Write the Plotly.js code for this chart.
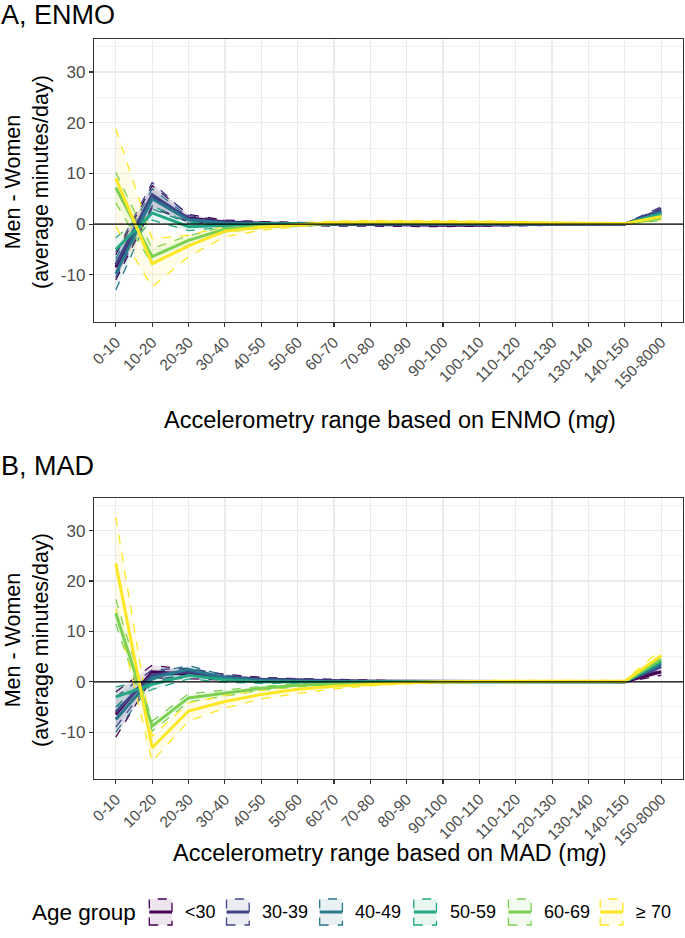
<!DOCTYPE html>
<html>
<head>
<meta charset="utf-8">
<script src="https://cdn.plot.ly/plotly-3.0.1.min.js"></script>
<style>
html,body{margin:0;padding:0;background:#fff;}
#chart{width:685px;height:938px;}
</style>
</head>
<body>
<div id="chart"></div>
<script>
// ---------- DATA ----------
const categories = ["0-10","10-20","20-30","30-40","40-50","50-60","60-70","70-80","80-90","90-100","100-110","110-120","120-130","130-140","140-150","150-8000"];
const groups = ["<30","30-39","40-49","50-59","60-69","\u2265 70"];
const colors = ["#440154","#414487","#2A788E","#22A884","#7AD151","#FDE725"];
const yTickVals = [-10,0,10,20,30];
const yTickText = ["-10","0","10","20","30"];

// Panel A: ENMO  (one row per age group)
const enmoMean = [
  [-8.5, 5.3, 1.2, 0.4, 0.2, 0.0,-0.1,-0.1,-0.2,-0.2,-0.2,-0.1,-0.1, 0.0, 0.0, 2.5],
  [-8.0, 5.8, 1.0, 0.3, 0.1, 0.0, 0.0, 0.0,-0.1,-0.1,-0.1,-0.1, 0.0, 0.0, 0.0, 2.8],
  [-9.8, 5.0, 0.8, 0.2, 0.1, 0.0, 0.0, 0.0, 0.0, 0.0, 0.0, 0.0, 0.0, 0.0, 0.0, 2.3],
  [-5.0, 2.2,-0.5,-0.2, 0.0, 0.0, 0.1, 0.1, 0.1, 0.1, 0.1, 0.1, 0.1, 0.1, 0.1, 2.0],
  [ 7.2,-6.4,-3.2,-1.0,-0.4,-0.1, 0.1, 0.2, 0.2, 0.2, 0.2, 0.2, 0.2, 0.1, 0.1, 1.2],
  [ 9.0,-7.8,-4.3,-1.4,-0.6,-0.1, 0.3, 0.4, 0.4, 0.4, 0.3, 0.3, 0.2, 0.2, 0.1, 1.5]
];
const enmoLow = [
  [-11.0, 3.2, 0.5, 0.0,-0.1,-0.3,-0.4,-0.4,-0.5,-0.5,-0.4,-0.3,-0.2,-0.1,-0.1, 1.9],
  [-10.5, 3.6, 0.3,-0.1,-0.2,-0.2,-0.2,-0.2,-0.3,-0.3,-0.3,-0.2,-0.2,-0.1,-0.1, 2.2],
  [-13.0, 3.0, 0.2,-0.1,-0.1,-0.2,-0.2,-0.1,-0.1,-0.1,-0.1,-0.1,-0.1,-0.1,-0.1, 1.8],
  [ -7.3, 0.8,-1.3,-0.6,-0.3,-0.2,-0.1,-0.1,-0.1,-0.1,-0.1, 0.0, 0.0, 0.0, 0.0, 1.5],
  [  4.2,-8.0,-4.1,-1.6,-0.8,-0.4,-0.1, 0.0, 0.0, 0.0, 0.0, 0.0, 0.0, 0.0, 0.0, 0.7],
  [ -0.5,-12.4,-6.4,-2.5,-1.2,-0.5, 0.0, 0.1, 0.1, 0.1, 0.1, 0.0, 0.0, 0.0, 0.0, 0.8]
];
const enmoHigh = [
  [-6.0, 7.6, 1.9, 0.8, 0.5, 0.3, 0.2, 0.2, 0.1, 0.1, 0.0, 0.1, 0.0, 0.1, 0.1, 3.1],
  [-5.5, 8.2, 1.7, 0.7, 0.4, 0.2, 0.2, 0.2, 0.1, 0.1, 0.1, 0.1, 0.1, 0.1, 0.1, 3.4],
  [-6.8, 7.0, 1.4, 0.5, 0.3, 0.2, 0.2, 0.1, 0.1, 0.1, 0.1, 0.1, 0.1, 0.1, 0.1, 2.8],
  [-2.7, 3.6, 0.3, 0.2, 0.3, 0.2, 0.2, 0.2, 0.2, 0.2, 0.2, 0.2, 0.2, 0.2, 0.2, 2.5],
  [10.2,-4.8,-2.3,-0.5,-0.1, 0.2, 0.3, 0.4, 0.4, 0.4, 0.4, 0.3, 0.3, 0.3, 0.2, 1.7],
  [18.8,-2.9,-2.2,-0.4, 0.0, 0.3, 0.6, 0.7, 0.7, 0.7, 0.6, 0.5, 0.4, 0.3, 0.2, 2.1]
];

// Panel B: MAD
const madMean = [
  [-6.5, 2.0, 1.5, 0.9, 0.5, 0.3, 0.2, 0.1, 0.1, 0.0, 0.0, 0.0, 0.0, 0.0, 0.0, 2.0],
  [-6.0, 1.4, 2.0, 0.9, 0.5, 0.3, 0.2, 0.1, 0.1, 0.0, 0.0, 0.0, 0.0, 0.0, 0.0, 3.0],
  [-7.5, 0.8, 2.5, 0.8, 0.3, 0.1, 0.0, 0.0, 0.0, 0.0, 0.0, 0.0, 0.0, 0.0, 0.0, 3.5],
  [-3.0,-0.5, 1.3, 0.4, 0.0,-0.1,-0.1, 0.0, 0.0, 0.0, 0.0, 0.0, 0.0, 0.0, 0.0, 4.0],
  [13.6,-8.8,-3.2,-2.2,-1.3,-0.7,-0.4,-0.2,-0.1, 0.0, 0.0, 0.0, 0.0, 0.0, 0.0, 4.5],
  [23.5,-13.1,-5.8,-3.9,-2.5,-1.5,-0.9,-0.5,-0.2, 0.0, 0.1, 0.1, 0.1, 0.1, 0.1, 5.2]
];
const madLow = [
  [-11.0, 0.8, 0.6, 0.3, 0.1, 0.0,-0.1,-0.1,-0.1,-0.1,-0.1,-0.1,-0.1,-0.1,-0.1, 1.3],
  [ -9.0, 0.4, 1.3, 0.4, 0.2, 0.0, 0.0, 0.0, 0.0,-0.1,-0.1,-0.1,-0.1,-0.1,-0.1, 2.4],
  [-10.0,-0.2, 1.8, 0.3, 0.0,-0.1,-0.1,-0.1,-0.1,-0.1,-0.1,-0.1,-0.1,-0.1,-0.1, 2.9],
  [ -5.0,-1.5, 0.6,-0.1,-0.3,-0.3,-0.2,-0.1,-0.1,-0.1,-0.1,-0.1,-0.1,-0.1,-0.1, 3.4],
  [ 11.5,-9.8,-4.0,-2.8,-1.7,-1.0,-0.6,-0.4,-0.2,-0.1,-0.1,-0.1,-0.1,-0.1,-0.1, 3.8],
  [ 14.5,-15.8,-7.8,-5.2,-3.4,-2.3,-1.4,-0.8,-0.4,-0.2,-0.1,-0.1,-0.1,-0.1,-0.1, 4.0]
];
const madHigh = [
  [-2.0, 3.3, 2.4, 1.5, 0.9, 0.6, 0.5, 0.3, 0.2, 0.1, 0.1, 0.1, 0.1, 0.1, 0.1, 2.7],
  [-3.0, 2.4, 2.7, 1.4, 0.8, 0.6, 0.4, 0.2, 0.2, 0.1, 0.1, 0.1, 0.1, 0.1, 0.1, 3.6],
  [-5.0, 1.8, 3.2, 1.3, 0.6, 0.3, 0.2, 0.1, 0.1, 0.1, 0.1, 0.1, 0.1, 0.1, 0.1, 4.1],
  [-1.0, 0.5, 2.0, 0.9, 0.3, 0.1, 0.1, 0.1, 0.1, 0.1, 0.1, 0.1, 0.1, 0.1, 0.1, 4.6],
  [16.4,-7.8,-2.4,-1.6,-0.9,-0.4,-0.2, 0.0, 0.1, 0.1, 0.1, 0.1, 0.1, 0.1, 0.1, 5.2],
  [32.7,-10.8,-4.2,-2.7,-1.7,-0.8,-0.4,-0.1, 0.1, 0.2, 0.3, 0.3, 0.3, 0.3, 0.3, 6.4]
];

// ---------- HELPERS ----------
const W = 685, H = 938;
const px = x => x / W;
const py = y => 1 - y / H;
function rgba(hex, a){
  const r = parseInt(hex.slice(1,3),16), g = parseInt(hex.slice(3,5),16), b = parseInt(hex.slice(5,7),16);
  return `rgba(${r},${g},${b},${a})`;
}
const FONT = "Liberation Sans, Arial, Helvetica, sans-serif";

const traces = [];
function addPanel(meanArr, lowArr, highArr, xa, ya){
  groups.forEach((g, i) => {
    traces.push({x: categories, y: highArr[i], xaxis: xa, yaxis: ya, type: 'scatter', mode: 'lines',
      line: {color: colors[i], width: 1.3, dash: 'dash'}, showlegend: false, hoverinfo: 'skip'});
    traces.push({x: categories, y: lowArr[i], xaxis: xa, yaxis: ya, type: 'scatter', mode: 'lines',
      line: {color: colors[i], width: 1.3, dash: 'dash'}, fill: 'tonexty', fillcolor: rgba(colors[i], 0.1),
      showlegend: false, hoverinfo: 'skip'});
  });
  groups.forEach((g, i) => {
    traces.push({x: categories, y: meanArr[i], xaxis: xa, yaxis: ya, type: 'scatter', mode: 'lines',
      line: {color: colors[i], width: 3}, name: g, showlegend: false});
  });
}
addPanel(enmoMean, enmoLow, enmoHigh, 'x', 'y');
addPanel(madMean, madLow, madHigh, 'x2', 'y2');

const xBase = {
  type: 'category', categoryorder: 'array', categoryarray: categories,
  range: [-0.6, categories.length - 0.4],
  domain: [px(94), px(683)],
  showgrid: true, gridcolor: '#EBEBEB', gridwidth: 1.3,
  showline: true, mirror: true, linecolor: '#333333', linewidth: 1.2,
  ticks: 'outside', ticklen: 4, tickcolor: '#333333', tickwidth: 1.2,
  tickangle: -45, tickfont: {family: FONT, size: 15.5, color: '#4D4D4D'},
  zeroline: false, fixedrange: true
};
const yBase = {
  range: [-19.3, 36.5],
  tickvals: yTickVals, ticktext: yTickText,
  showgrid: true, gridcolor: '#EBEBEB', gridwidth: 1.3,
  minor: {dtick: 5, tick0: 0, showgrid: true, gridcolor: '#F0F0F0', gridwidth: 0.9, ticks: ''},
  showline: true, mirror: true, linecolor: '#333333', linewidth: 1.2,
  ticks: 'outside', ticklen: 4, tickcolor: '#333333', tickwidth: 1.2,
  tickfont: {family: FONT, size: 17, color: '#4D4D4D'},
  zeroline: false, fixedrange: true
};

const layout = {
  width: W, height: H, autosize: false,
  margin: {l: 0, r: 0, t: 0, b: 0, pad: 0},
  paper_bgcolor: '#ffffff', plot_bgcolor: '#ffffff',
  showlegend: false,
  xaxis: Object.assign({}, xBase, {anchor: 'y'}),
  yaxis: Object.assign({}, yBase, {anchor: 'x', domain: [py(322), py(39)]}),
  xaxis2: Object.assign({}, xBase, {anchor: 'y2'}),
  yaxis2: Object.assign({}, yBase, {anchor: 'x2', domain: [py(779), py(498)]}),
  shapes: [
    {type: 'line', xref: 'x domain', yref: 'y', x0: 0, x1: 1, y0: 0, y1: 0, line: {color: '#000000', width: 1.2}, layer: 'above'},
    {type: 'line', xref: 'x2 domain', yref: 'y2', x0: 0, x1: 1, y0: 0, y1: 0, line: {color: '#000000', width: 1.2}, layer: 'above'}
  ],
  annotations: [
    {text: 'A, ENMO', xref: 'paper', yref: 'paper', x: px(-1), y: py(15), xanchor: 'left', yanchor: 'middle', showarrow: false,
      font: {family: FONT, size: 27, color: '#000000'}},
    {text: 'B, MAD', xref: 'paper', yref: 'paper', x: px(-1), y: py(466), xanchor: 'left', yanchor: 'middle', showarrow: false,
      font: {family: FONT, size: 27, color: '#000000'}},
    {text: 'Accelerometry range based on ENMO (m<i>g</i>)', xref: 'paper', yref: 'paper', x: px(390), y: py(420), xanchor: 'center', yanchor: 'middle', showarrow: false,
      font: {family: FONT, size: 23.5, color: '#000000'}},
    {text: 'Accelerometry range based on MAD (m<i>g</i>)', xref: 'paper', yref: 'paper', x: px(390), y: py(853), xanchor: 'center', yanchor: 'middle', showarrow: false,
      font: {family: FONT, size: 23.5, color: '#000000'}},
    {text: 'Men - Women<br>(average minutes/day)', xref: 'paper', yref: 'paper', x: px(27), y: py(182), xanchor: 'center', yanchor: 'middle', textangle: -90, showarrow: false,
      font: {family: FONT, size: 21.5, color: '#000000'}},
    {text: 'Men - Women<br>(average minutes/day)', xref: 'paper', yref: 'paper', x: px(27), y: py(640), xanchor: 'center', yanchor: 'middle', textangle: -90, showarrow: false,
      font: {family: FONT, size: 21.5, color: '#000000'}},
    {text: 'Age group', xref: 'paper', yref: 'paper', x: px(30), y: py(912), xanchor: 'left', yanchor: 'middle', showarrow: false,
      font: {family: FONT, size: 22.5, color: '#000000'}}
  ]
};

// legend keys (drawn as shapes/annotations from groups + colors)
const keyX = [149.3, 226.5, 319.7, 413.8, 508.4, 600.2];
const keyW = 22.7, keyH = 26, legY = 912;
groups.forEach((g, i) => {
  const x0 = keyX[i];
  layout.shapes.push({type: 'rect', xref: 'paper', yref: 'paper', x0: px(x0), x1: px(x0 + keyW), y0: py(legY + keyH/2), y1: py(legY - keyH/2),
    fillcolor: rgba(colors[i], 0.1), line: {color: colors[i], width: 1.3, dash: 'dash'}});
  layout.shapes.push({type: 'line', xref: 'paper', yref: 'paper', x0: px(x0), x1: px(x0 + keyW), y0: py(legY), y1: py(legY),
    line: {color: colors[i], width: 3}});
  layout.annotations.push({text: g, xref: 'paper', yref: 'paper', x: px(x0 + keyW + 11), y: py(legY), xanchor: 'left', yanchor: 'middle', showarrow: false,
    font: {family: FONT, size: 18, color: '#000000'}});
});

Plotly.newPlot('chart', traces, layout, {displayModeBar: false, staticPlot: true});
</script>
</body>
</html>
